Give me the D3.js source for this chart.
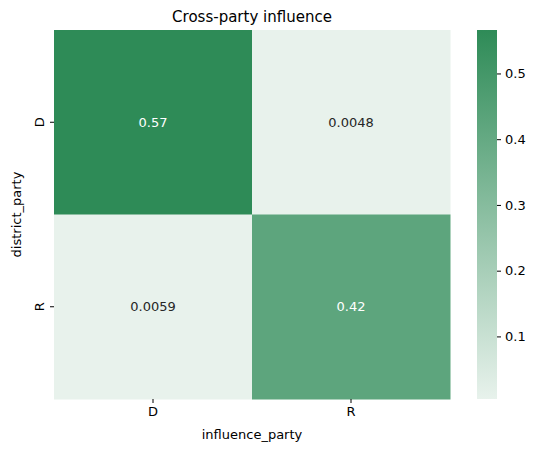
<!DOCTYPE html>
<html><head><meta charset="utf-8">
<script src="https://cdn.jsdelivr.net/npm/d3@7"></script>
<style>body{margin:0;background:#fff}text{font-family:"DejaVu Sans",sans-serif}</style>
</head><body>
<svg id="c" width="535" height="453"></svg>
<script>
const rows = ["D","R"];
const cols = ["D","R"];
const values = [[0.5661,0.0048],[0.0059,0.4232]];
const labels = [["0.57","0.0048"],["0.0059","0.42"]];
const cbTicks = [0.1,0.2,0.3,0.4,0.5];
const vmin = 0.0048, vmax = 0.5661;

const svg = d3.select("#c");
const L=54,R=450,T=30,B=399;
const x = d3.scaleBand().domain(cols).range([L,R]);
const y = d3.scaleBand().domain(rows).range([T,B]);
const color = d3.scaleLinear().domain([vmin,vmax]).range(["#e8f2ec","#2e8b57"]).interpolate(d3.interpolateRgb);

const cells=[];
rows.forEach((r,i)=>cols.forEach((c,j)=>cells.push({r,c,v:values[i][j],t:labels[i][j]})));
svg.selectAll("rect.cell").data(cells).enter().append("rect")
  .attr("x",d=>x(d.c)).attr("y",d=>y(d.r)).attr("width",x.bandwidth()+0.5).attr("height",y.bandwidth()+0.5)
  .attr("fill",d=>color(d.v));
svg.selectAll("text.lab").data(cells).enter().append("text")
  .attr("x",d=>x(d.c)+x.bandwidth()/2).attr("y",d=>y(d.r)+y.bandwidth()/2).attr("dy","0.35em")
  .attr("text-anchor","middle").attr("font-size",13)
  .attr("fill",d=>d.v>0.3?"#ffffff":"#262626").text(d=>d.t);

const xa = svg.append("g").attr("transform",`translate(0,${B})`).call(d3.axisBottom(x).tickSize(4).tickPadding(4));
const ya = svg.append("g").attr("transform",`translate(${L},0)`).call(d3.axisLeft(y).tickSize(4).tickPadding(4));
[xa,ya].forEach(a=>{a.select(".domain").remove();a.selectAll("text").attr("font-size",13).attr("fill","#000");});
ya.selectAll(".tick text").attr("text-anchor","middle").attr("x",0).attr("dy","0").attr("transform","translate(-10,0) rotate(-90)");

svg.append("text").attr("x",(L+R)/2).attr("y",439).attr("text-anchor","middle").attr("font-size",13).text("influence_party");
svg.append("text").attr("transform",`translate(21,${(T+B)/2}) rotate(-90)`).attr("text-anchor","middle").attr("font-size",13).text("district_party");
svg.append("text").attr("x",(L+R)/2).attr("y",22).attr("text-anchor","middle").attr("font-size",15).text("Cross-party influence");

// colorbar
const cbX=477,cbW=20;
const defs=svg.append("defs");
const g=defs.append("linearGradient").attr("id","g").attr("x1",0).attr("y1",1).attr("x2",0).attr("y2",0);
g.append("stop").attr("offset","0%").attr("stop-color",color(vmin));
g.append("stop").attr("offset","100%").attr("stop-color",color(vmax));
svg.append("rect").attr("x",cbX).attr("y",T).attr("width",cbW).attr("height",B-T).attr("fill","url(#g)");
const cy=d3.scaleLinear().domain([vmin,vmax]).range([B,T]);
const ca=svg.append("g").attr("transform",`translate(${cbX+cbW},0)`).call(d3.axisRight(cy).tickValues(cbTicks).tickFormat(d3.format(".1f")).tickSize(4).tickPadding(4));
ca.select(".domain").remove();
ca.selectAll("text").attr("font-size",13).attr("fill","#000");
</script>
</body></html>
